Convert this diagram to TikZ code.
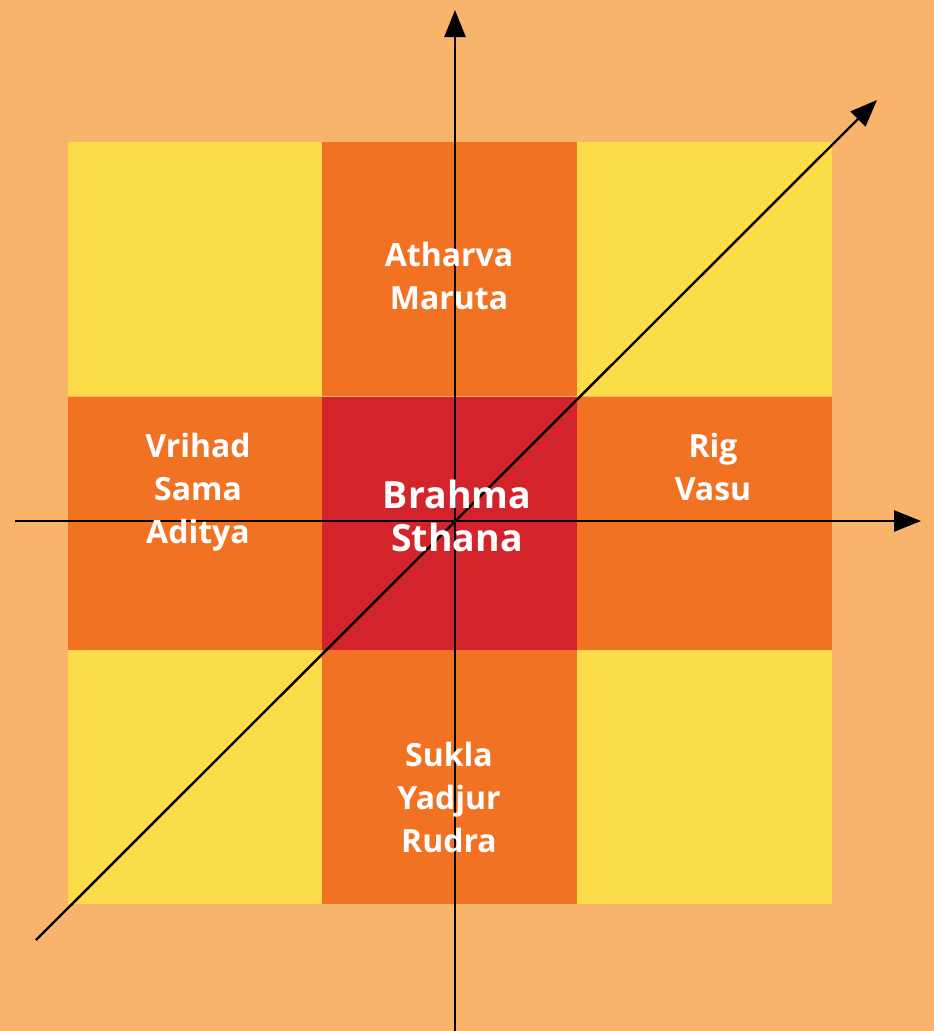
\documentclass[tikz,border=0pt]{standalone}
\usepackage{fontspec}
\setmainfont{Open Sans}
\usetikzlibrary{arrows.meta}
\definecolor{bg}{HTML}{F8B46A}
\definecolor{yel}{HTML}{FDDC4A}
\definecolor{org}{HTML}{F27224}
\definecolor{rd}{HTML}{D3242B}
\begin{document}
\begin{tikzpicture}[x=1pt,y=-1pt,
  cell/.style={draw=none,minimum width=255pt,minimum height=254pt,inner sep=0pt,anchor=north west},
  lbl/.style={text=white,font=\bfseries\fontsize{32}{43}\selectfont,align=center},
  big/.style={text=white,font=\bfseries\fontsize{37.5}{43}\selectfont,align=center},
  axis/.style={line width=2.4pt,-{Triangle[length=27pt,width=21pt]}}]
\fill[bg] (0,0) rectangle (934,1031);
\useasboundingbox (0,0) rectangle (934,1031);
% grid
\node[cell,fill=yel] (c11) at (68,142) {};
\node[cell,fill=org] (c12) at (322,142) {};
\node[cell,fill=yel] (c13) at (577,142) {};
\node[cell,fill=org] (c21) at (68,397) {};
\node[cell,fill=rd]  (c22) at (322,397) {};
\node[cell,fill=org] (c23) at (577,397) {};
\node[cell,fill=yel] (c31) at (68,650) {};
\node[cell,fill=org] (c32) at (322,650) {};
\node[cell,fill=yel] (c33) at (577,650) {};
% axes
\coordinate (vb) at (455,1031);
\coordinate (vt) at (455,10);
\coordinate (hl) at (15,521);
\coordinate (hr) at (921,521);
\coordinate (dl) at (36,940);
\coordinate (dr) at (877,100);
\draw[axis] (vb) -- (vt);
\draw[axis] (hl) -- (hr);
\draw[axis] (dl) -- (dr);
% labels
\node[lbl] (t1) at (449,276) {Atharva\\Maruta};
\node[lbl] (t2) at (198,492) {Vrihad\\Sama\\Aditya};
\node[lbl] (t3) at (713,467) {Rig\\Vasu};
\node[lbl] (t4) at (449,797) {Sukla\\Yadjur\\Rudra};
\node[big] (t5) at (457,516) {Brahma\\Sthana};
\end{tikzpicture}
\end{document}
